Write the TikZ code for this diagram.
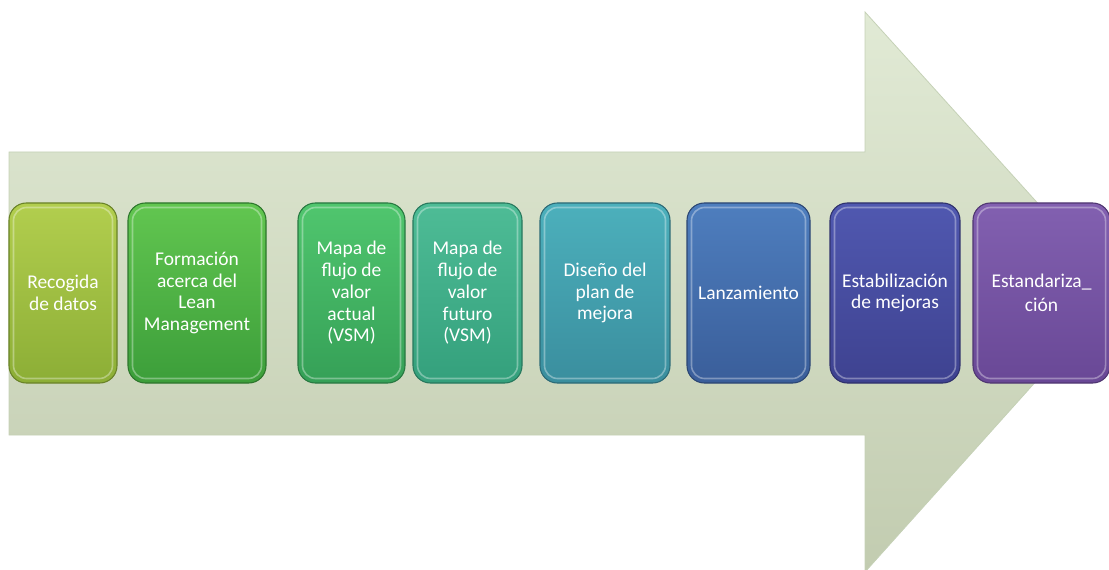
\documentclass[tikz,border=0pt]{standalone}
\usepackage{fontspec}
\setmainfont{Carlito}
\begin{document}
\begin{tikzpicture}[x=0.75pt,y=-0.75pt,
  arrowbody/.style={top color=arrowtop,bottom color=arrowbot,draw=arrowline,line width=0.6pt},
  stage/.style n args={2}{rectangle,rounded corners=13pt,top color=#1,bottom color=#2,
    draw=#2!75!black,line width=0.8pt,minimum height=135pt,inner sep=2pt,
    align=center,text=white,font=\fontsize{14.6}{16.3}\selectfont},
  gloss/.style={draw=white,opacity=0.35,line width=1.2pt,rounded corners=10pt}]
\definecolor{arrowtop}{HTML}{E1EAD5}
\definecolor{arrowbot}{HTML}{C2CCB0}
\definecolor{arrowline}{HTML}{C5D1B6}
\definecolor{c1a}{HTML}{B2CE4E}\definecolor{c1b}{HTML}{8CAE36}
\definecolor{c2a}{HTML}{62C650}\definecolor{c2b}{HTML}{3C9E3A}
\definecolor{c3a}{HTML}{50C66E}\definecolor{c3b}{HTML}{35A057}
\definecolor{c4a}{HTML}{4EBC96}\definecolor{c4b}{HTML}{34A07C}
\definecolor{c5a}{HTML}{4CB0BC}\definecolor{c5b}{HTML}{3A8E9E}
\definecolor{c6a}{HTML}{4E7EBE}\definecolor{c6b}{HTML}{3A5E9A}
\definecolor{c7a}{HTML}{5058B0}\definecolor{c7b}{HTML}{3E4290}
\definecolor{c8a}{HTML}{8260B0}\definecolor{c8b}{HTML}{694896}
\useasboundingbox (0,0) rectangle (1109,570);
\begin{scope}
\clip (0,0) rectangle (1109,570);
\path[arrowbody] (9,152) -- (865,152) -- (865,12) -- (1117,291) -- (865,572) -- (865,435) -- (9,435) -- cycle;
\end{scope}
\node[stage={c1a}{c1b},minimum width=81pt] (s1) at (63,293) {Recogida\\de datos};
\node[stage={c2a}{c2b},minimum width=103.5pt] (s2) at (197,293) {Formación\\acerca del\\Lean\\Management};
\node[stage={c3a}{c3b},minimum width=80.25pt] (s3) at (351.5,293) {Mapa de\\flujo de\\valor\\actual\\(VSM)};
\node[stage={c4a}{c4b},minimum width=81.75pt] (s4) at (467.5,293) {Mapa de\\flujo de\\valor\\futuro\\(VSM)};
\node[stage={c5a}{c5b},minimum width=97.5pt] (s5) at (605,293) {Diseño del\\plan de\\mejora};
\node[stage={c6a}{c6b},minimum width=92.25pt] (s6) at (748.5,293) {Lanzamiento};
\node[stage={c7a}{c7b},minimum width=97.5pt] (s7) at (895,293) {Estabilización\\de mejoras};
\node[stage={c8a}{c8b},minimum width=102.75pt] (s8) at (1041.5,293) {Estandariza\_\\[2pt]ción};
\foreach \n in {s1,s2,s3,s4,s5,s6,s7,s8}{
  \draw[gloss] ([shift={(5,5)}]\n.north west) rectangle ([shift={(-5,-5)}]\n.south east);
}
\end{tikzpicture}
\end{document}
